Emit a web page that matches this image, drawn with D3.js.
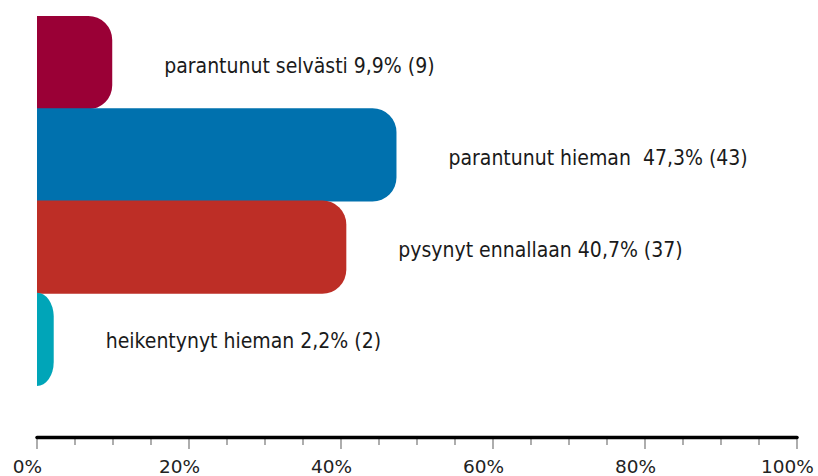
<!DOCTYPE html>
<html><head><meta charset="utf-8">
<script src="https://cdn.jsdelivr.net/npm/d3@7"></script>
<style>body{margin:0;background:#fff}svg{display:block}</style>
</head><body>
<svg id="c" width="818" height="476"></svg>
<script>
const categories = ["parantunut selvästi", "parantunut hieman ", "pysynyt ennallaan", "heikentynyt hieman"];
const percents = [9.9, 47.3, 40.7, 2.2];
const counts = [9, 43, 37, 2];
const colors = ["#9a0036", "#0071ae", "#bd2e26", "#00a5b8"];
const tickValues = [0, 20, 40, 60, 80, 100];

const svg = d3.select("#c");
const x = d3.scaleLinear().domain([0, 100]).range([37, 797]);
const y = d3.scaleBand().domain(categories).range([16, 385]).padding(0);
const yLab = d3.scaleBand().domain(categories).range([20, 387]).padding(0);

function barPath(x0, x1, y0, y1, r) {
  const w = x1 - x0, h = y1 - y0;
  const rx = Math.min(r, w), ry = Math.min(r, h / 2);
  return `M${x0},${y0}H${x1 - rx}A${rx},${ry} 0 0 1 ${x1},${y0 + ry}V${y1 - ry}A${rx},${ry} 0 0 1 ${x1 - rx},${y1}H${x0}Z`;
}

svg.selectAll("path.bar").data(categories).join("path")
  .attr("class", "bar")
  .attr("fill", (d, i) => colors[i])
  .attr("d", (d, i) => barPath(x(0), x(percents[i]), y(d), y(d) + y.bandwidth() + 1, 24));

svg.selectAll("text.lab").data(categories).join("text")
  .attr("class", "lab")
  .attr("x", (d, i) => x(percents[i]) + 52)
  .attr("y", d => yLab(d) + yLab.bandwidth() / 2)
  .attr("dy", "0.35em")
  .attr("font-family", "DejaVu Sans Condensed, DejaVu Sans")
  .attr("font-stretch", "condensed")
  .attr("font-size", 21)
  .attr("fill", "#1a1a1a")
  .style("white-space", "pre")
  .text((d, i) => `${d} ${String(percents[i]).replace(".", ",")}% (${counts[i]})`);

// axis
const axisY = 437.5;
const minor = d3.range(0, 101, 5);
svg.selectAll("line.tick").data(minor).join("line")
  .attr("x1", d => x(d)).attr("x2", d => x(d))
  .attr("y1", axisY).attr("y2", d => d % 20 === 0 ? 449 : 445)
  .attr("stroke", "#777").attr("stroke-width", 1.2);
svg.append("line").attr("x1", x(0)).attr("x2", x(100)).attr("y1", axisY).attr("y2", axisY)
  .attr("stroke", "#000").attr("stroke-width", 3.5).attr("stroke-linecap", "round");
svg.selectAll("text.tl").data(tickValues).join("text")
  .attr("class", "tl")
  .attr("x", d => x(d) - 9.5).attr("y", 473)
  .attr("text-anchor", "middle")
  .attr("font-family", "DejaVu Sans")
  .attr("font-size", 18.5)
  .attr("fill", "#222")
  .text(d => d + "%");
</script>
</body></html>
